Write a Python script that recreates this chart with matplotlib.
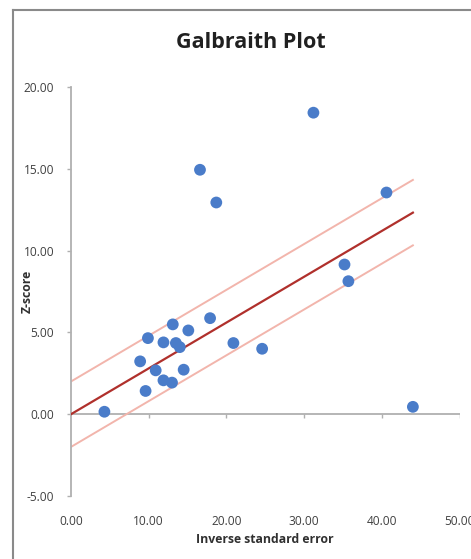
import matplotlib
matplotlib.use("Agg")
import matplotlib.pyplot as plt
import numpy as np
from matplotlib.lines import Line2D

plt.rcParams['font.family'] = ['Open Sans', 'DejaVu Sans']

# data
inv_se = [4.3, 9.6, 8.9, 9.9, 10.9, 11.9, 11.9, 13.0, 13.1, 13.5, 14.0, 14.5,
          15.1, 17.9, 20.9, 24.6, 44.0, 35.2, 35.7, 40.6, 31.2, 16.6, 18.7]
z_score = [0.15, 1.42, 3.23, 4.65, 2.68, 4.39, 2.07, 1.93, 5.49, 4.35, 4.1, 2.72,
           5.12, 5.87, 4.35, 4.0, 0.45, 9.15, 8.13, 13.55, 18.43, 14.94, 12.94]
slope = 0.28
band = 2.0
line_x = [0.0, 44.0]
x_ticks = [0, 10, 20, 30, 40, 50]
y_ticks = [-5, 0, 5, 10, 15, 20]

W, H = 471, 559
fig = plt.figure(figsize=(W / 100, H / 100), dpi=100)
ax = fig.add_axes([71 / W, 1 - 496 / H, (459.5 - 71) / W, (496 - 87) / H])

lx = np.array(line_x)
ax.plot(lx, slope * lx + band, color='#F2B5AC', lw=1.4, zorder=2)
ax.plot(lx, slope * lx - band, color='#F2B5AC', lw=1.4, zorder=2)
ax.plot(lx, slope * lx, color='#B0302C', lw=1.6, zorder=3)
ax.scatter(inv_se, z_score, s=72, color='#4A7CC9', edgecolors='none', zorder=4)

ax.set_xlim(0, 50)
ax.set_ylim(-5, 20)
ax.set_xticks(x_ticks)
ax.set_yticks(y_ticks)
ax.set_xticklabels([f"{v:.2f}" for v in x_ticks])
ax.set_yticklabels([f"{v:.2f}" for v in y_ticks])

for s in ['top', 'right', 'bottom']:
    ax.spines[s].set_visible(False)
ax.spines['left'].set_color('#B0B0B0')
ax.spines['left'].set_linewidth(1.3)
ax.axhline(0, color='#B0B0B0', lw=1.3, zorder=1)
ax.vlines(x_ticks[1:], -0.25, 0, color='#B0B0B0', lw=1.0, zorder=1)

ax.tick_params(axis='y', length=3, width=1, color='#B0B0B0', pad=9,
               labelsize=8.6, labelcolor='#404040')
ax.tick_params(axis='x', length=0, pad=14, labelsize=8.6, labelcolor='#404040')

ax.set_xlabel('Inverse standard error', fontsize=8.8, fontweight='bold',
              color='#303030', labelpad=3)
fig.text(27 / W, 1 - 291 / H, 'Z-score', rotation=90, fontsize=8.8,
         fontweight='bold', color='#303030', ha='center', va='center')
fig.text(251 / W, 1 - 43 / H, 'Galbraith Plot', fontsize=15.5, fontweight='bold',
         color='#202020', ha='center', va='center')

# chart frame
fig.add_artist(Line2D([13 / W, 13 / W], [0, 1 - 10 / H], transform=fig.transFigure,
                      color='#8A8A8A', lw=1.5))
fig.add_artist(Line2D([13 / W, 1], [1 - 10 / H, 1 - 10 / H], transform=fig.transFigure,
                      color='#8A8A8A', lw=1.5))

fig.savefig('out.png', dpi=100)
